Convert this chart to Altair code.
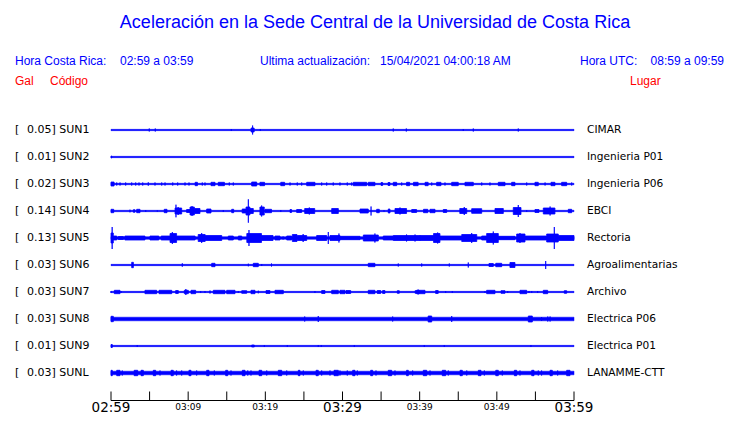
import altair as alt
import pandas as pd

# ---------------- data ----------------
codes = ["SUN1", "SUN2", "SUN3", "SUN4", "SUN5", "SUN6", "SUN7", "SUN8", "SUN9", "SUNL"]
gal = [0.05, 0.01, 0.02, 0.14, 0.13, 0.03, 0.03, 0.03, 0.01, 0.03]
lugar = ["CIMAR", "Ingenieria P01", "Ingenieria P06", "EBCI", "Rectoria",
         "Agroalimentarias", "Archivo", "Electrica P06", "Electrica P01", "LANAMME-CTT"]
# background noise half-amplitude of each trace
noise = [0.65, 0.65, 0.7, 0.7, 1.3, 0.65, 0.65, 1.8, 0.65, 1.8]

tick_minutes = [0, 5, 10, 15, 20, 25, 30, 35, 40, 45, 50, 55, 60]
major_ticks = [0, 30, 60]
major_labels = ["02:59", "03:29", "03:59"]
minor_ticks = [10, 20, 40, 50]
minor_labels = ["03:09", "03:19", "03:39", "03:49"]

# bursts: (start minute, end minute, half amplitude)
SUN1 = [(4.96, 4.96, 1.5), (5.74, 5.74, 1.5), (15.59, 15.59, 1), (18.15, 18.55, 2), (18.35, 18.35, 4.5),
        (19.35, 19.35, 1), (36.58, 36.58, 1.5), (38.27, 38.27, 1.5), (45.65, 45.65, 1), (46.95, 46.95, 1.5),
        (52.78, 52.78, 1.5)]
SUN2 = [(0.0, 0.1, 1.0)]
SUN3 = [(0, 0.4, 2), (0.74, 0.74, 1.5), (1.17, 1.17, 1.5), (1.9, 1.9, 1.5), (2.68, 2.68, 1.5), (3.2, 3.2, 1.5),
        (3.63, 3.63, 1.5), (4.11, 4.11, 1.5), (4.83, 4.83, 1.7), (5.70, 5.70, 1.5), (6.57, 6.57, 1.5),
        (7.0, 7.0, 1.5), (8.0, 8.0, 1.5), (8.64, 8.64, 1.5), (9.59, 9.59, 1.5), (10.11, 10.11, 1.5),
        (10.9, 11.2, 1.7), (11.83, 11.83, 1.5), (12.18, 12.18, 1.5), (12.96, 13.48, 1.7), (13.9, 14.7, 1.7),
        (15.33, 15.33, 1.5), (15.85, 15.85, 1.5), (18.23, 18.88, 2), (19.3, 19.9, 1.7), (22.0, 22.5, 1.7),
        (23.2, 23.2, 1.5), (24.14, 24.14, 1.5), (24.71, 24.71, 1.5), (25.36, 26.43, 1.7), (27.3, 27.3, 1.5),
        (27.95, 27.95, 1.5), (28.8, 28.8, 1.5), (29.67, 29.67, 1.5), (30.62, 30.62, 1.5), (31.19, 31.19, 1.5),
        (31.4, 33.13, 1.7), (33.34, 34.2, 1.7), (35.0, 35.2, 1.5), (35.9, 36.15, 1.5), (36.58, 37.02, 1.7),
        (37.67, 37.67, 1.5), (38.3, 38.7, 1.7), (39.2, 39.8, 1.7), (40.7, 41.1, 1.7), (41.56, 41.56, 1.5),
        (42.2, 42.76, 1.7), (43.28, 43.28, 1.5), (44.15, 45.0, 1.7), (45.87, 46.95, 1.7), (48.04, 48.04, 1.5),
        (49.11, 49.11, 1.5), (50.19, 51.06, 1.7), (51.92, 52.35, 1.7), (53.87, 53.87, 1.5), (54.94, 55.37, 1.7),
        (56.25, 56.25, 1.5), (57.02, 57.53, 1.7), (58.4, 59.05, 1.7), (59.7, 59.7, 1.5)]
SUN4 = [(0, 0.35, 1.7), (2.46, 2.46, 1.3), (2.9, 3.1, 1.3), (3.33, 3.76, 1.7), (4.5, 4.5, 1), (6.0, 6.0, 0.7),
        (6.9, 7.26, 1.7), (8.3, 9.16, 3), (8.42, 8.42, 6.3), (8.7, 8.7, 4), (9.8, 10.24, 1.5), (10.24, 10.8, 4),
        (10.8, 11.53, 2.5), (10.5, 10.5, 5), (12.4, 12.96, 2), (14.55, 14.55, 1), (15.64, 15.9, 1.7),
        (17.0, 17.5, 2), (17.5, 18.0, 4), (17.8, 17.8, 11.7), (18.0, 18.44, 2.5), (19.3, 19.86, 4),
        (19.52, 19.52, 5.5), (19.96, 20.8, 1.7), (22.0, 22.0, 1), (23.2, 23.4, 1.5), (24.06, 24.7, 1.5),
        (25.1, 26.4, 2.5), (25.7, 25.7, 3.5), (28.6, 29.46, 2.5), (32.27, 33.34, 2), (33.7, 33.7, 4.5),
        (34.43, 34.77, 1.7), (35.38, 35.38, 0.7), (35.93, 36.15, 2), (36.8, 38.3, 2.5), (37.45, 37.45, 3.5),
        (38.97, 39.6, 1.5), (40.5, 41.05, 1.7), (41.34, 41.99, 1.7), (43.06, 43.5, 1.5), (45.2, 46.1, 2.5),
        (45.78, 45.78, 4), (46.74, 48.04, 2.3), (49.76, 50.84, 2.5), (52.13, 53.13, 3.5), (52.78, 52.78, 6),
        (53.87, 53.87, 1), (54.94, 55.46, 1.5), (56.02, 57.53, 3), (56.9, 56.9, 4.5), (59.26, 59.7, 1.7)]
SUN5 = [(0, 0.3, 5), (0.15, 0.15, 11), (0.3, 0.74, 2), (0.95, 1.6, 1.5), (1.8, 4.4, 2), (5.05, 6.2, 2),
        (6.5, 7.65, 2), (7.65, 8.5, 4.5), (7.95, 7.95, 6), (8.5, 10.9, 2), (11.3, 12.2, 3.5), (11.75, 11.75, 5),
        (12.2, 14.35, 2.5), (15.2, 15.85, 2), (16.5, 16.94, 2), (17.6, 19.5, 4.5), (17.88, 17.88, 8),
        (19.5, 21.0, 2.5), (21.25, 21.9, 2), (22.3, 22.3, 1.5), (22.77, 23.4, 2), (23.5, 24.1, 3.5),
        (24.14, 25.36, 2.5), (24.9, 24.9, 4), (26.65, 27.95, 2.5), (28.16, 28.16, 6), (28.38, 29.67, 2.5),
        (29.54, 29.54, 4.5), (29.67, 32.27, 1.7), (32.7, 33.56, 3), (34.2, 34.2, 4.5), (33.56, 34.64, 3),
        (35.28, 36.58, 2), (36.58, 40.04, 2.5), (38.3, 38.3, 3.5), (39.4, 39.4, 3.5), (40.04, 41.8, 2.5),
        (41.8, 42.63, 4.5), (42.33, 42.33, 5.5), (42.63, 45.45, 2), (45.45, 47.4, 3.5), (46.74, 46.74, 5),
        (48.04, 48.68, 2), (48.68, 50.19, 4.5), (49.54, 49.54, 6.5), (50.19, 52.35, 1.7), (52.57, 53.65, 4),
        (53.0, 53.0, 5), (53.65, 56.46, 2), (56.46, 57.96, 4), (57.45, 57.45, 11), (57.96, 60, 2.5)]
SUN6 = [(2.68, 2.9, 2.7), (9.24, 9.24, 1.7), (13.05, 13.48, 1.7), (17.8, 17.8, 1.3), (18.44, 19.09, 1.7),
        (19.53, 19.53, 1), (20.8, 20.8, 1.5), (33.34, 34.2, 1.7), (37.23, 37.23, 1.5), (40.26, 40.26, 1.5),
        (43.84, 43.84, 1.5), (46.3, 46.3, 2.5), (48.98, 49.54, 1.5), (49.86, 50.63, 1.7), (51.7, 52.35, 2.5),
        (56.33, 56.33, 4)]
SUN7 = [(0.0, 0.0, 1), (0.43, 1.17, 1.7), (1.3, 1.3, 1), (4.4, 5.92, 1.7), (6.22, 7.87, 1.7), (8.38, 8.72, 1.5),
        (9.5, 10.02, 1.7), (9.7, 9.7, 3), (10.37, 10.97, 1.7), (11.62, 11.62, 1), (12.18, 12.18, 1),
        (12.83, 12.83, 1.5), (13.26, 14.77, 1.7), (14.99, 16.07, 1.7), (16.5, 16.5, 1), (16.94, 17.59, 1.3),
        (18.14, 18.66, 1.7), (19.09, 19.09, 1.3), (20.09, 20.6, 1.5), (21.25, 22.33, 1.7), (26.43, 26.43, 1),
        (27.3, 27.73, 1.5), (28.6, 29.46, 1.7), (29.67, 30.32, 1.7), (30.45, 31.06, 1.5), (33.34, 34.2, 1.7),
        (34.5, 34.95, 1.5), (35.2, 35.5, 1.5), (37.1, 37.36, 1.3), (39.4, 40.0, 1.3), (39.6, 40.69, 1.7),
        (39.8, 39.8, 2.5), (42.07, 42.4, 1.5), (43.37, 43.37, 1), (44.23, 44.23, 1), (48.46, 48.46, 1),
        (48.68, 49.76, 1.7), (50.54, 51.06, 1.3), (51.41, 51.41, 1), (53.0, 53.87, 1.7), (54.17, 54.17, 1),
        (54.52, 54.52, 1), (55.29, 55.29, 1), (56.02, 56.59, 1.7), (58.74, 59.05, 1.3)]
SUN8 = [(0, 0.3, 2.7), (25.1, 25.1, 2.5), (26.86, 26.86, 3), (36.5, 36.5, 2.5), (41.1, 41.56, 3),
        (44.15, 44.15, 3), (54.08, 54.6, 3), (55.8, 55.8, 2), (56.6, 56.6, 2.5), (56.9, 56.9, 2.5)]
SUN9 = [(0, 0.17, 1.5), (3.4, 3.4, 1), (18.23, 18.57, 1), (19.87, 19.87, 1), (22.85, 22.85, 1),
        (26.86, 26.86, 1), (27.25, 27.25, 1), (31.53, 31.53, 1), (40.6, 40.6, 1), (43.19, 43.19, 1),
        (54.42, 54.42, 1)]
SUNL = [(0, 0.17, 2.7), (0.74, 1.17, 2.7), (1.46, 1.46, 2.5), (3.0, 3.46, 2.7), (3.89, 4.19, 2.7),
        (5.48, 5.79, 2.7), (6.35, 6.35, 2.5), (7.78, 8.07, 2.7), (8.5, 8.5, 2.5), (9.16, 9.16, 2.5),
        (10.1, 10.37, 2.7), (11.1, 11.1, 2.5), (12.4, 12.7, 2.7), (13.39, 13.39, 2.5), (14.86, 15.12, 2.7),
        (15.55, 15.55, 2.5), (17.02, 17.37, 2.7), (17.72, 17.72, 2.5), (18.14, 18.14, 2.5), (19.18, 19.53, 2.7),
        (20.18, 20.18, 2.5), (21.68, 22.12, 2.7), (22.77, 22.77, 2.5), (24.27, 24.49, 2.7), (24.92, 24.92, 2.5),
        (26.57, 26.86, 2.7), (27.3, 27.3, 2.5), (28.38, 28.38, 2.5), (28.9, 29.46, 2.7), (29.67, 29.67, 2.5),
        (30.62, 30.62, 2.5), (31.32, 31.62, 2.7), (31.92, 31.92, 2.5), (33.65, 33.91, 2.7), (34.34, 34.34, 2.5),
        (35.93, 36.37, 2.7), (36.8, 36.8, 2.5), (38.3, 38.53, 2.7), (39.09, 39.09, 2.5), (40.47, 40.91, 2.7),
        (41.34, 41.34, 2.5), (42.93, 43.37, 2.7), (43.71, 43.71, 2.5), (45.23, 45.53, 2.7), (46.1, 46.1, 2.5),
        (47.6, 47.95, 2.7), (48.38, 48.38, 2.5), (49.86, 50.19, 2.7), (50.71, 50.71, 2.5), (52.27, 52.57, 2.7),
        (53.0, 53.0, 2.5), (54.52, 54.82, 2.7), (55.37, 55.37, 2.5), (55.8, 55.8, 2.5), (56.89, 57.19, 2.7),
        (57.88, 57.88, 2.5), (59.05, 59.48, 2.7)]
bursts = [SUN1, SUN2, SUN3, SUN4, SUN5, SUN6, SUN7, SUN8, SUN9, SUNL]

# ---------------- tables ----------------
ROW_PX = 27.0
BLUE = "#0000ff"
RED = "#ff0000"

rows = []
for i, blist in enumerate(bursts):
    for t0, t1, a in blist:
        rows.append({"t0": t0, "t1": t1, "lo": i - a / ROW_PX, "hi": i + a / ROW_PX})
burst_df = pd.DataFrame(rows)

stations = pd.DataFrame({
    "row": list(range(len(codes))),
    "code": codes,
    "gal": gal,
    "lugar": lugar,
    "t0": [0] * len(codes),
    "t1": [60] * len(codes),
    "lo": [i - n / ROW_PX for i, n in enumerate(noise)],
    "hi": [i + n / ROW_PX for i, n in enumerate(noise)],
})
stations["left"] = stations["gal"].map(lambda g: f"{g:.2f}] ") + stations["code"]

# the view is shifted by the page margin (negative padding), so ranges are page pixels
xs = alt.Scale(domain=[0, 60], range=[111, 574], nice=False, zero=False)
ys = alt.Scale(domain=[0, 9], range=[130, 373], nice=False, zero=False)

base_traces = alt.Chart(stations).mark_rect(color=BLUE, stroke=BLUE, strokeWidth=0.5).encode(
    x=alt.X("t0:Q", scale=xs, axis=None), x2="t1:Q",
    y=alt.Y("lo:Q", scale=ys, axis=None), y2="hi:Q")

burst_layer = alt.Chart(burst_df).mark_rect(color=BLUE, stroke=BLUE, strokeWidth=0.8).encode(
    x=alt.X("t0:Q", scale=xs, axis=None), x2="t1:Q",
    y=alt.Y("lo:Q", scale=ys, axis=None), y2="hi:Q")

lab_font = "DejaVu Sans"
bracket = alt.Chart(stations).mark_text(align="left", baseline="middle", font=lab_font, fontSize=11,
                                        color="black").encode(
    x=alt.value(15), y=alt.Y("row:Q", scale=ys, axis=None), text=alt.value("["))
left_lab = alt.Chart(stations).mark_text(align="left", baseline="middle", font=lab_font, fontSize=11,
                                         color="black").encode(
    x=alt.value(27), y=alt.Y("row:Q", scale=ys, axis=None), text="left:N")
right_lab = alt.Chart(stations).mark_text(align="left", baseline="middle", font=lab_font, fontSize=10.6,
                                          color="black").encode(
    x=alt.value(587), y=alt.Y("row:Q", scale=ys, axis=None), text="lugar:N")

# time axis (raised a little so that its labels fit in the page)
dom = alt.Chart(pd.DataFrame({"t0": [0], "t1": [60]})).mark_rule(color="black", strokeWidth=1).encode(
    x=alt.X("t0:Q", scale=xs, axis=None), x2="t1:Q", y=alt.value(400.5))
ticks = alt.Chart(pd.DataFrame({"t": tick_minutes})).mark_rule(color="black", strokeWidth=1).encode(
    x=alt.X("t:Q", scale=xs, axis=None), y=alt.value(391.5), y2=alt.value(400.5))
major = alt.Chart(pd.DataFrame({"t": major_ticks, "lab": major_labels})).mark_text(
    baseline="alphabetic", font=lab_font, fontSize=13.5, color="black").encode(
    x=alt.X("t:Q", scale=xs, axis=None), y=alt.value(412), text="lab:N")
minor = alt.Chart(pd.DataFrame({"t": minor_ticks, "lab": minor_labels})).mark_text(
    baseline="alphabetic", font=lab_font, fontSize=9, color="black").encode(
    x=alt.X("t:Q", scale=xs, axis=None), y=alt.value(410), text="lab:N")


def label(text, x, y, size=12, color=BLUE, align="left"):
    return alt.Chart(pd.DataFrame({"s": [text]})).mark_text(
        align=align, baseline="middle", font="Liberation Sans", fontSize=size, color=color).encode(
        x=alt.value(x), y=alt.value(y), text="s:N")


header = [
    label("Aceleración en la Sede Central de la Universidad de Costa Rica", 375, 23, size=18, align="center"),
    label("Hora Costa Rica:", 15, 61),
    label("02:59 a 03:59", 120, 61),
    label("Ultima actualización:", 260, 61),
    label("15/04/2021 04:00:18 AM", 380, 61),
    label("Hora UTC:", 580, 61),
    label("08:59 a 09:59", 724, 61, align="right"),
    label("Gal", 15, 81, color=RED),
    label("Código", 50, 81, color=RED),
    label("Lugar", 630, 81, color=RED),
]

chart = alt.layer(base_traces, burst_layer, bracket, left_lab, right_lab, dom, ticks, major, minor,
                  *header).properties(
    width=740, height=423, padding={"left": -8, "top": -8, "right": -8, "bottom": -8},
    autosize="none", background="white"
).configure_view(stroke=None)

chart.save("out.html", embed_options={"renderer": "svg", "actions": False})
